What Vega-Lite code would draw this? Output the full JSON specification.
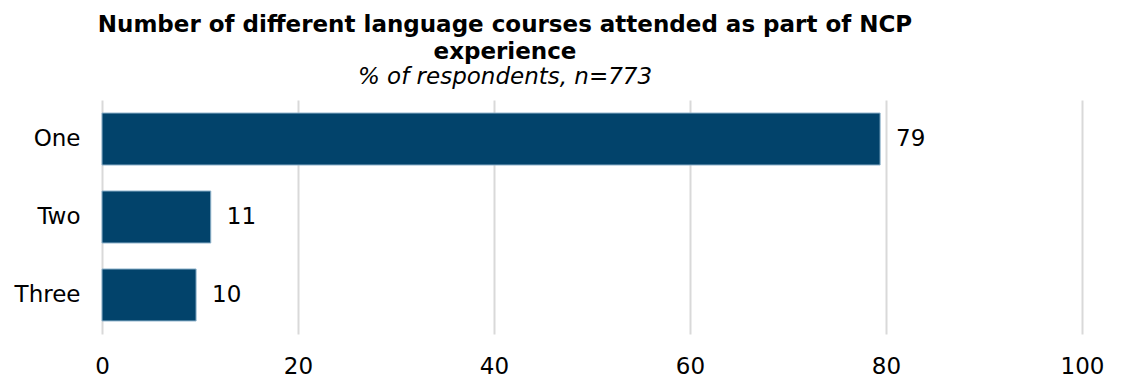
{
  "$schema": "https://vega.github.io/schema/vega-lite/v6.json",
  "width": 980,
  "height": 234,
  "autosize": {"type": "none"},
  "padding": {"left": 102, "top": 100, "right": 40, "bottom": 47},
  "background": "white",
  "config": {"view": {"stroke": null}, "font": "DejaVu Sans"},
  "title": {
    "text": ["Number of different language courses attended as part of NCP", "experience"],
    "subtitle": "% of respondents, n=773",
    "anchor": "middle",
    "dx": -87,
    "font": "DejaVu Sans",
    "fontSize": 23,
    "fontWeight": "bold",
    "color": "#000000",
    "lineHeight": 27,
    "subtitleFont": "DejaVu Sans",
    "subtitleFontSize": 23,
    "subtitleFontStyle": "italic",
    "subtitleColor": "#000000",
    "subtitlePadding": 2,
    "offset": 11
  },
  "data": {
    "values": [
      {"courses": "One", "pct": 79.4, "label": "79"},
      {"courses": "Two", "pct": 11.1, "label": "11"},
      {"courses": "Three", "pct": 9.6, "label": "10"}
    ]
  },
  "encoding": {
    "y": {
      "field": "courses",
      "type": "nominal",
      "sort": ["One", "Two", "Three"],
      "scale": {"paddingInner": 0.333, "paddingOuter": 0.167},
      "axis": {
        "title": null,
        "domain": false,
        "ticks": false,
        "labelFontSize": 23,
        "labelColor": "#000000",
        "labelPadding": 22,
        "labelFont": "DejaVu Sans"
      }
    },
    "x": {
      "field": "pct",
      "type": "quantitative",
      "scale": {"domain": [0, 100]},
      "axis": {
        "title": null,
        "values": [0, 20, 40, 60, 80, 100],
        "domain": false,
        "ticks": false,
        "grid": true,
        "gridColor": "#d9d9d9",
        "gridWidth": 2,
        "labelFlush": false,
        "labelFontSize": 23,
        "labelColor": "#000000",
        "labelPadding": 21,
        "labelFont": "DejaVu Sans"
      }
    }
  },
  "layer": [
    {
      "mark": {"type": "bar", "color": "#02436B", "stroke": "#8fb3cc", "strokeWidth": 1}
    },
    {
      "mark": {"type": "text", "align": "left", "dx": 16, "fontSize": 23, "color": "#000000", "font": "DejaVu Sans"},
      "encoding": {"text": {"field": "label"}}
    }
  ]
}
